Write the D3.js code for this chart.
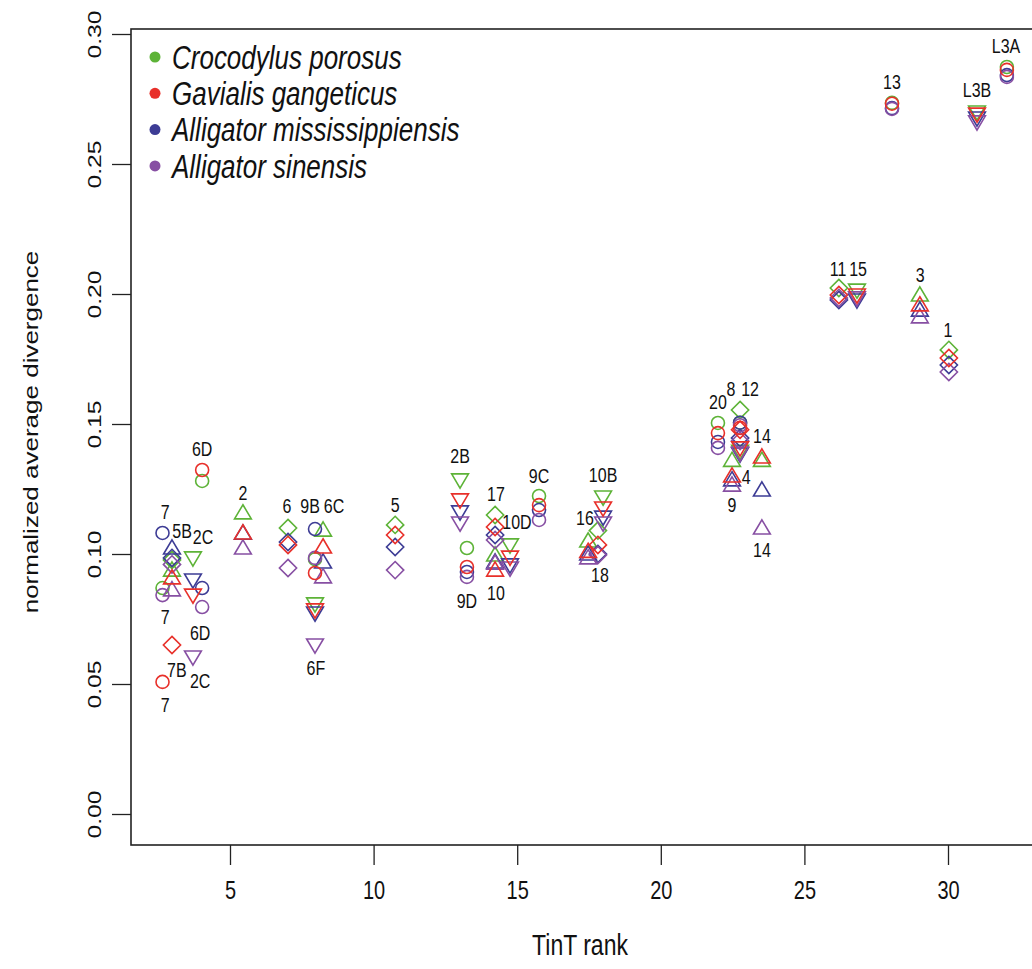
<!DOCTYPE html>
<html>
<head>
<meta charset="utf-8">
<script src="https://cdn.jsdelivr.net/npm/d3@7"></script>
<style>
  body { margin: 0; background: #fff; }
  svg { display: block; }
  text { font-family: "Liberation Sans", Arial, sans-serif; }
</style>
</head>
<body>
<script>
let w = 1032;
let h = 969;

let species = ["Crocodylus porosus", "Gavialis gangeticus",
               "Alligator mississippiensis", "Alligator sinensis"];
let colors = ["#5db337", "#e8302a", "#3d3c95", "#874fa3"];

// one entry per gene group
let genes  = ["7", "5B", "7B", "2C", "6D", "2", "6", "9B", "6C", "6F",
              "5", "2B", "9D", "17", "10", "10D", "9C", "16", "18", "10B",
              "20", "8", "12", "4", "12b", "14", "11", "15", "3", "1",
              "13", "L3B", "L3A"];
let ranks  = [2.65, 2.98, 2.98, 3.71, 4.03, 5.45, 7.02, 7.96, 8.24, 7.96,
              10.75, 13.01, 13.25, 14.23, 14.23, 14.75, 15.76, 17.47, 17.81, 17.99,
              21.99, 22.76, 22.76, 22.48, 22.76, 23.52, 26.2, 26.83, 29.02, 30.03,
              28.05, 31.01, 32.05];
let shapes = ["circle", "up", "diamond", "down", "circle", "up", "diamond", "circle", "up", "down",
              "diamond", "down", "circle", "diamond", "up", "down", "circle", "up", "diamond", "down",
              "circle", "diamond", "circle", "up", "down", "up", "diamond", "down", "up", "diamond",
              "circle", "down", "circle"];

let porosus = [0.0869, 0.0938, 0.0977, 0.0985, 0.1281, 0.1158, 0.1100, 0.0980, 0.1092, 0.0808,
               0.1112, 0.1285, 0.1023, 0.1150, 0.0996, 0.1035, 0.1223, 0.1050, 0.1090, 0.1219,
               0.1504, 0.1554, 0.1505, 0.1360, 0.1395, 0.1360, 0.2023, 0.2015, 0.1996, 0.1785,
               0.2735, 0.2700, 0.2873];
let gangeticus = [0.0508, 0.0908, 0.0650, 0.0842, 0.1323, 0.1081, 0.1035, 0.0927, 0.1027, 0.0785,
                  0.1073, 0.1208, 0.0950, 0.1104, 0.0938, 0.0988, 0.1188, 0.1010, 0.1035, 0.1177,
                  0.1465, 0.1478, 0.1485, 0.1300, 0.1408, 0.1373, 0.1996, 0.1996, 0.1958, 0.1754,
                  0.2732, 0.2692, 0.2862];
let mississippiensis = [0.1081, 0.1023, 0.0985, 0.0900, 0.0869, 0.1080, 0.1046, 0.1096, 0.0969, 0.0773,
                        0.1027, 0.1162, 0.0931, 0.1073, 0.0969, 0.0958, 0.1169, 0.1000, 0.1000, 0.1142,
                        0.1431, 0.1446, 0.1505, 0.1285, 0.1385, 0.1246, 0.1977, 0.1977, 0.1938, 0.1727,
                        0.2715, 0.2677, 0.2842];
let sinensis = [0.0842, 0.0862, 0.0960, 0.0604, 0.0796, 0.1023, 0.0946, 0.0985, 0.0912, 0.0650,
                0.0938, 0.1119, 0.0912, 0.1054, 0.0965, 0.0946, 0.1131, 0.0985, 0.0996, 0.1119,
                0.1408, 0.1435, 0.1495, 0.1265, 0.1388, 0.1100, 0.1985, 0.1985, 0.1912, 0.1700,
                0.2712, 0.2662, 0.2835];

// point labels
let labelText  = ["7", "5B", "2C", "7", "6D", "7B", "2C", "7", "6D", "2",
                  "6", "9B", "6C", "6F", "5", "2B", "17", "10D", "9C", "10B",
                  "16", "9D", "10", "18", "20", "8", "12", "14", "4", "9",
                  "14", "11", "15", "3", "1", "13", "L3B", "L3A"];
let labelRank  = [2.74, 3.33, 4.06, 2.74, 3.96, 3.15, 3.96, 2.74, 4.03, 5.45,
                  6.98, 7.79, 8.62, 7.99, 10.75, 13.01, 14.26, 14.99, 15.76, 17.99,
                  17.36, 13.25, 14.26, 17.88, 21.99, 22.44, 23.11, 23.52, 22.97, 22.48,
                  23.52, 26.17, 26.87, 29.03, 30.0, 28.05, 31.01, 32.02];
let labelValue = [0.1162, 0.1088, 0.1065, 0.0758, 0.0696, 0.0554, 0.0512, 0.0419, 0.1404, 0.1235,
                  0.1185, 0.1185, 0.1185, 0.0562, 0.1188, 0.1377, 0.1231, 0.1123, 0.1300, 0.1304,
                  0.1138, 0.0819, 0.0850, 0.0919, 0.1585, 0.1635, 0.1635, 0.1454, 0.1296, 0.1188,
                  0.1015, 0.2096, 0.2096, 0.2073, 0.1862, 0.2815, 0.2785, 0.2954];

let xTicks = [5, 10, 15, 20, 25, 30];
let yTicks = [0, 0.05, 0.10, 0.15, 0.20, 0.25, 0.30];

let xScale = d3.scaleLinear().domain([5, 30]).range([230, 948]);
let yScale = d3.scaleLinear().domain([0, 0.30]).range([814, 34]);

let box = { left: 131, top: 29, right: 1060, bottom: 845 };
let stretch = 1.3;   // the text in the original is drawn tall and narrow

let svg = d3.select("body")
            .append("svg")
            .attr("width", w)
            .attr("height", h);

svg.append("rect")
   .attr("x", box.left)
   .attr("y", box.top)
   .attr("width", box.right - box.left)
   .attr("height", box.bottom - box.top)
   .attr("fill", "none")
   .attr("stroke", "#222")
   .attr("stroke-width", 1.6);

// axes
let xAxis = d3.axisBottom(xScale)
              .tickValues(xTicks)
              .tickSize(20)
              .tickFormat(d3.format("d"));
let gx = svg.append("g")
            .attr("transform", "translate(0," + box.bottom + ")")
            .call(xAxis);
gx.select(".domain").remove();
gx.selectAll("line").attr("stroke", "#222").attr("stroke-width", 1.3);
gx.selectAll("text")
  .attr("y", null)
  .attr("dy", null)
  .attr("dominant-baseline", "central")
  .attr("transform", "translate(0,45) scale(1," + stretch + ")")
  .attr("font-size", "20px")
  .attr("fill", "#111");

let yAxis = d3.axisLeft(yScale)
              .tickValues(yTicks)
              .tickSize(19)
              .tickFormat(d3.format(".2f"));
let gy = svg.append("g")
            .attr("transform", "translate(" + box.left + ",0)")
            .call(yAxis);
gy.select(".domain").remove();
gy.selectAll("line").attr("stroke", "#222").attr("stroke-width", 1.3);
gy.selectAll("text")
  .attr("font-size", "19px")
  .attr("fill", "#111")
  .attr("x", null)
  .attr("dy", null)
  .attr("text-anchor", "middle")
  .attr("dominant-baseline", "central")
  .attr("transform", "translate(-36,0) scale(1," + stretch + ") rotate(-90)");

svg.append("text")
   .attr("transform", "translate(580,945) scale(1," + stretch + ")")
   .attr("text-anchor", "middle")
   .attr("dominant-baseline", "central")
   .attr("font-size", "23px")
   .attr("fill", "#111")
   .text("TinT rank");

svg.append("text")
   .attr("transform", "translate(31,432) scale(1," + stretch + ") rotate(-90)")
   .attr("text-anchor", "middle")
   .attr("dominant-baseline", "central")
   .attr("font-size", "20px")
   .attr("fill", "#111")
   .text("normalized average divergence");

// points
let series = [porosus, gangeticus, mississippiensis, sinensis];
let drawOrder = [0, 2, 3, 1];

function shapePath(shape) {
    if (shape === "circle") {
        return "M6.5,0A6.5,6.5 0 1,1 -6.5,0A6.5,6.5 0 1,1 6.5,0Z";
    }
    if (shape === "up") {
        return "M0,-8.2L8.4,6L-8.4,6Z";
    }
    if (shape === "down") {
        return "M0,8.2L8.4,-6L-8.4,-6Z";
    }
    return "M0,-8.6L8.6,0L0,8.6L-8.6,0Z";
}

drawOrder.forEach(function(s) {
    let pts = genes.map(function(g, i) {
        return { rank: ranks[i], value: series[s][i], shape: shapes[i] };
    });
    svg.append("g")
       .selectAll("path")
       .data(pts)
       .enter()
       .append("path")
       .attr("d", function(d) { return shapePath(d.shape); })
       .attr("transform", function(d) {
           return "translate(" + xScale(d.rank) + "," + yScale(d.value) + ")";
       })
       .attr("fill", "none")
       .attr("stroke", colors[s])
       .attr("stroke-width", 1.6);
});

// labels
svg.append("g")
   .selectAll("text")
   .data(labelText)
   .enter()
   .append("text")
   .attr("transform", function(d, i) {
       return "translate(" + xScale(labelRank[i]) + "," + yScale(labelValue[i]) + ") scale(1," + stretch + ")";
   })
   .attr("text-anchor", "middle")
   .attr("dominant-baseline", "central")
   .attr("font-size", "16px")
   .attr("fill", "#111")
   .text(function(d) { return d; });

// legend
let legend = svg.append("g");
legend.selectAll("circle")
      .data(species)
      .enter()
      .append("circle")
      .attr("cx", 155)
      .attr("cy", function(d, i) { return 57 + i * 36.3; })
      .attr("r", 5.5)
      .attr("fill", function(d, i) { return colors[i]; });
legend.selectAll("text")
      .data(species)
      .enter()
      .append("text")
      .attr("transform", function(d, i) {
          return "translate(172," + (57 + i * 36.3) + ") scale(1," + stretch + ")";
      })
      .attr("dominant-baseline", "central")
      .attr("font-size", "26px")
      .attr("font-style", "italic")
      .attr("fill", "#111")
      .text(function(d) { return d; });
</script>
</body>
</html>
